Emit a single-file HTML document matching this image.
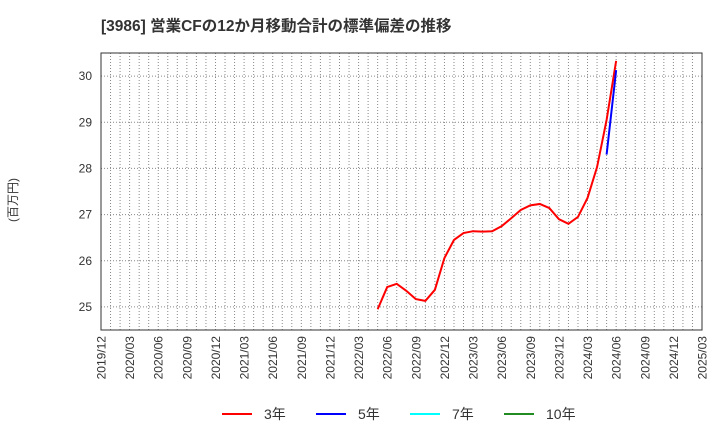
<!DOCTYPE html>
<html><head><meta charset="utf-8"><style>
body{margin:0;background:#fff;font-family:"Liberation Sans","Noto Sans CJK JP",sans-serif;}
</style></head><body>
<svg id="chart" width="720" height="440" xmlns="http://www.w3.org/2000/svg" style="font-family:'Liberation Sans','Noto Sans CJK JP',sans-serif">
<text x="101" y="31" font-size="15.5" font-weight="bold" fill="#333">[3986]  営業CFの12か月移動合計の標準偏差の推移</text>
<text transform="translate(17,200) rotate(-90)" text-anchor="middle" font-size="12" fill="#333">(百万円)</text>
<g id="grid"></g><g id="series"></g><g id="axes"></g>
<g font-size="14" fill="#333">
<line x1="222" y1="414" x2="252" y2="414" stroke="#f00" stroke-width="2"/><text x="264" y="419">3年</text>
<line x1="316" y1="414" x2="346" y2="414" stroke="#00f" stroke-width="2"/><text x="358" y="419">5年</text>
<line x1="410" y1="414" x2="440" y2="414" stroke="#0ff" stroke-width="2"/><text x="452" y="419">7年</text>
<line x1="504" y1="414" x2="534" y2="414" stroke="#228b22" stroke-width="2"/><text x="546" y="419">10年</text>
</g>
</svg>
<script>
const xTickLabels=["2019/12","2020/03","2020/06","2020/09","2020/12","2021/03","2021/06","2021/09","2021/12","2022/03","2022/06","2022/09","2022/12","2023/03","2023/06","2023/09","2023/12","2024/03","2024/06","2024/09","2024/12","2025/03"];
const yTicks=[25,26,27,28,29,30];
const start3=29; // months since 2019/12
const s3=[24.95,25.43,25.5,25.35,25.17,25.13,25.37,26.06,26.45,26.6,26.64,26.63,26.64,26.75,26.92,27.1,27.2,27.23,27.14,26.9,26.8,26.95,27.36,28.03,29.05,30.33];
const start5=53;
const s5=[28.3,30.13];
const L=101,R=702,T=53,B=330,yMin=24.5,yMax=30.5,nM=63;
const xs=m=>L+(R-L)*m/nM, ys=v=>B-(B-T)*(v-yMin)/(yMax-yMin);
const NS="http://www.w3.org/2000/svg";
function mk(t,a,p){const e=document.createElementNS(NS,t);for(const k in a)e.setAttribute(k,a[k]);p.appendChild(e);return e;}
const g=document.getElementById('grid'),ax=document.getElementById('axes'),se=document.getElementById('series');
for(let m=1;m<nM;m++){const l=mk('line',{x1:xs(m),x2:xs(m),y1:T,y2:B,stroke:'#888','stroke-dasharray':'1,2'},g);

}
yTicks.forEach(v=>{const l=mk('line',{x1:L,x2:R,y1:ys(v),y2:ys(v),stroke:'#888','stroke-dasharray':'1,2'},g);


const t=mk('text',{x:L-9,y:ys(v)+4,'text-anchor':'end','font-size':12,fill:'#333'},ax);t.textContent=v;

});
xTickLabels.forEach((s,i)=>{const x=xs(i*3);const t=mk('text',{transform:`translate(${x+4.5},336) rotate(-90)`,'text-anchor':'end','font-size':12,fill:'#333'},ax);t.textContent=s;

});
const fr=mk('rect',{x:L,y:T,width:R-L,height:B-T,fill:'none',stroke:'#333'},ax);


function line(arr,st,col,name){const p=mk('polyline',{points:arr.map((v,i)=>xs(st+i)+','+ys(v)).join(' '),fill:'none',stroke:col,'stroke-width':2},se);

}
line(s3,start3,'#f00','series-3y');
line(s5,start5,'#00f','series-5y');
</script>
</body></html>
